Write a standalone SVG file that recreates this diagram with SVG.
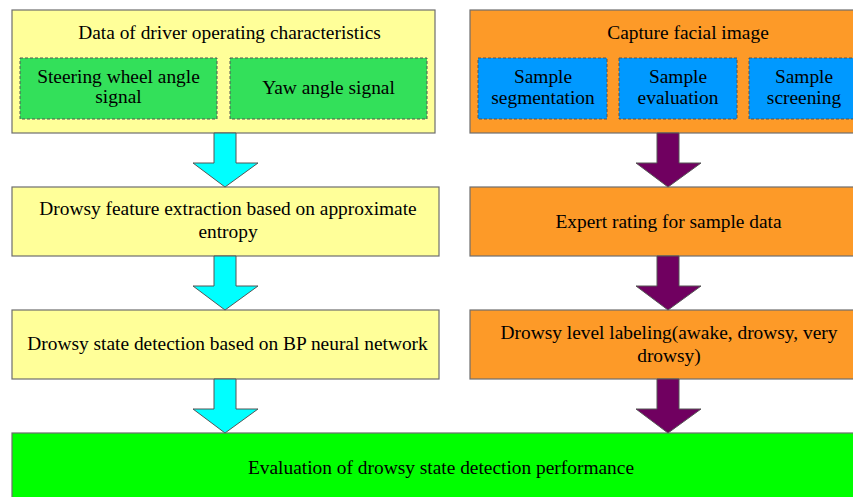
<svg xmlns="http://www.w3.org/2000/svg" width="853" height="497" viewBox="0 0 853 497">
  <style>
    text { font-family: "Liberation Serif", "Times New Roman", serif; font-size: 19.4px; fill: #000; text-anchor: middle; }
    .box { stroke: #6e6e6e; stroke-width: 1.2; }
    .yellow { fill: #ffff99; }
    .orange { fill: #fd9a28; }
    .green { fill: #00ff00; }
    .sub { stroke: #555; stroke-width: 1; stroke-dasharray: 3 2; }
    .subgreen { fill: #33e05a; }
    .subblue { fill: #0099ff; }
    .cyan { fill: #00ffff; stroke: #555; stroke-width: 1; }
    .purple { fill: #700060; stroke: #555; stroke-width: 1; }
  </style>
  <rect width="853" height="497" fill="#ffffff"/>

  <!-- left column -->
  <g id="driver-data">
    <rect class="box yellow" x="12" y="10" width="423" height="123"/>
    <text x="229.5" y="39">Data of driver operating characteristics</text>
    <g id="steering-signal">
      <rect class="sub subgreen" x="20" y="58" width="197" height="61"/>
      <text x="118.5" y="83">Steering wheel angle</text>
      <text x="118.5" y="103">signal</text>
    </g>
    <g id="yaw-signal">
      <rect class="sub subgreen" x="230" y="58" width="197" height="61"/>
      <text x="328.5" y="94">Yaw angle signal</text>
    </g>
  </g>

  <g id="feature-extraction">
    <rect class="box yellow" x="12" y="187" width="427" height="69"/>
    <text x="228" y="215">Drowsy feature extraction based on approximate</text>
    <text x="228" y="238">entropy</text>
  </g>

  <g id="state-detection">
    <rect class="box yellow" x="12" y="310" width="427" height="69"/>
    <text x="227.5" y="350">Drowsy state detection based on BP neural network</text>
  </g>

  <!-- right column -->
  <g id="facial-capture">
    <rect class="box orange" x="470" y="10" width="400" height="123"/>
    <text x="688" y="39">Capture facial image</text>
    <g id="sample-segmentation">
      <rect class="sub subblue" x="478" y="58" width="129" height="61"/>
      <text x="543" y="83">Sample</text>
      <text x="543" y="104">segmentation</text>
    </g>
    <g id="sample-evaluation">
      <rect class="sub subblue" x="619" y="58" width="118" height="61"/>
      <text x="678" y="83">Sample</text>
      <text x="678" y="104">evaluation</text>
    </g>
    <g id="sample-screening">
      <rect class="sub subblue" x="749" y="58" width="112" height="61"/>
      <text x="804" y="83">Sample</text>
      <text x="804" y="104">screening</text>
    </g>
  </g>

  <g id="expert-rating">
    <rect class="box orange" x="470" y="187" width="400" height="69"/>
    <text x="668.5" y="228">Expert rating for sample data</text>
  </g>

  <g id="level-labeling">
    <rect class="box orange" x="470" y="310" width="400" height="69"/>
    <text x="669" y="339">Drowsy level labeling(awake, drowsy, very</text>
    <text x="669" y="362">drowsy)</text>
  </g>

  <!-- shared result -->
  <g id="performance-evaluation">
    <rect class="box green" x="12" y="433" width="860" height="80"/>
    <text x="441" y="474">Evaluation of drowsy state detection performance</text>
  </g>

  <!-- block arrows -->
  <g id="connectors">
    <path class="cyan" d="M214,133 H236 V163 H258 L225,187 L193,163 H214 Z"/>
    <path class="cyan" d="M214,256 H236 V286 H258 L225,310 L193,286 H214 Z"/>
    <path class="cyan" d="M214,379 H236 V409 H258 L225,433 L193,409 H214 Z"/>
    <path class="purple" d="M657,133 H679 V163 H701 L668,187 L636,163 H657 Z"/>
    <path class="purple" d="M657,256 H679 V286 H701 L668,310 L636,286 H657 Z"/>
    <path class="purple" d="M657,379 H679 V409 H701 L668,433 L636,409 H657 Z"/>
  </g>
</svg>
